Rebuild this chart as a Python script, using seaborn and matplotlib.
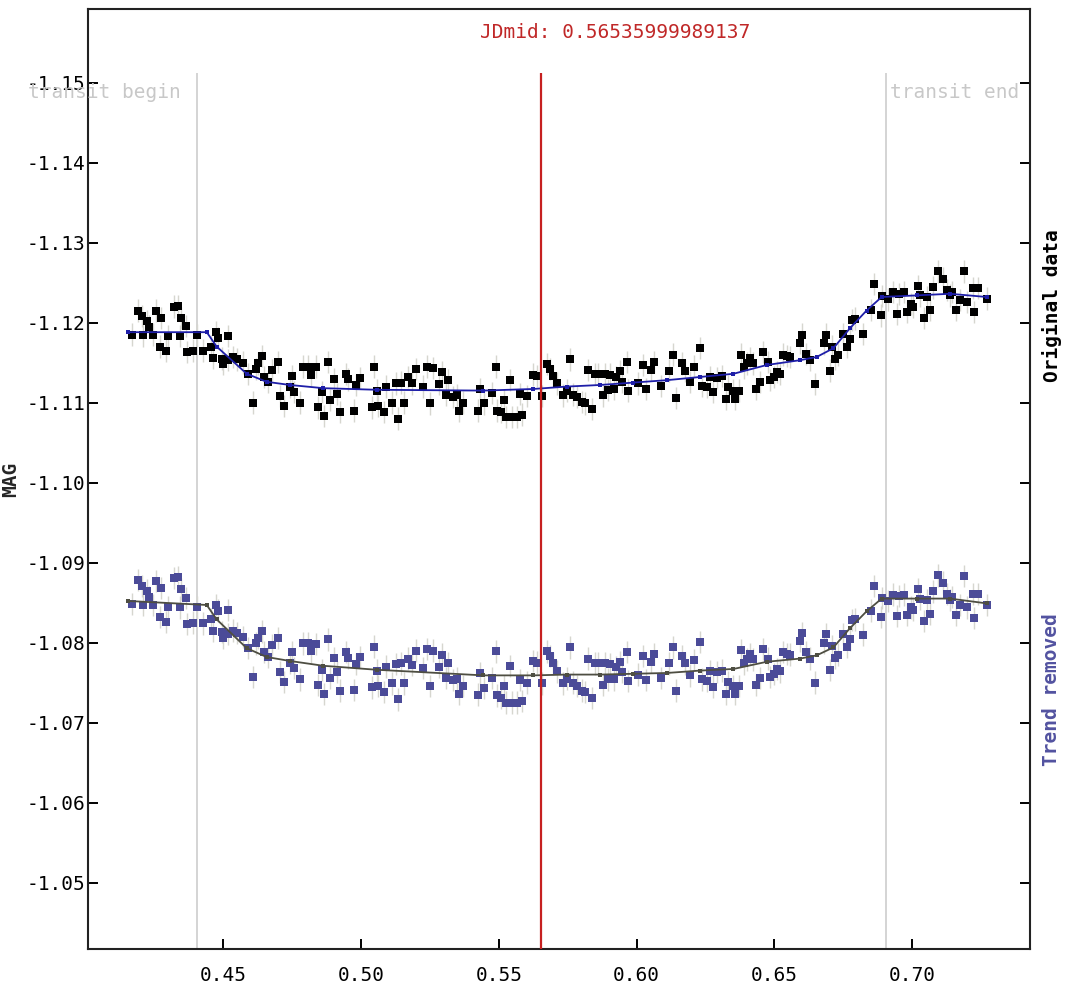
import numpy as np
import matplotlib
matplotlib.use("Agg")
import matplotlib.pyplot as plt
import seaborn as sns
from matplotlib.ticker import FormatStrFormatter, MultipleLocator

# --- data (JD fraction, magnitude) ---
jd = [
    0.4167, 0.4189, 0.4204, 0.4210, 0.4222, 0.4231, 0.4246, 0.4256, 0.4270, 0.4274,
    0.4291, 0.4300, 0.4322, 0.4337, 0.4343, 0.4346, 0.4364, 0.4370, 0.4389, 0.4403,
    0.4427, 0.4454, 0.4461, 0.4472, 0.4482, 0.4494, 0.4500, 0.4516, 0.4518, 0.4536,
    0.4548, 0.4570, 0.4591, 0.4609, 0.4617, 0.4627, 0.4642, 0.4648, 0.4663, 0.4675,
    0.4697, 0.4706, 0.4721, 0.4742, 0.4750, 0.4757, 0.4778, 0.4790, 0.4808, 0.4817,
    0.4835, 0.4845, 0.4859, 0.4867, 0.4881, 0.4887, 0.4903, 0.4911, 0.4924, 0.4945,
    0.4954, 0.4976, 0.4980, 0.4996, 0.5038, 0.5047, 0.5059, 0.5063, 0.5083, 0.5089,
    0.5113, 0.5126, 0.5135, 0.5144, 0.5157, 0.5172, 0.5184, 0.5199, 0.5223, 0.5238,
    0.5250, 0.5262, 0.5284, 0.5292, 0.5307, 0.5317, 0.5332, 0.5347, 0.5357, 0.5371,
    0.5426, 0.5432, 0.5447, 0.5474, 0.5490, 0.5494, 0.5508, 0.5520, 0.5526, 0.5541,
    0.5547, 0.5565, 0.5577, 0.5585, 0.5601, 0.5625, 0.5640, 0.5656, 0.5674, 0.5686,
    0.5696, 0.5710, 0.5734, 0.5746, 0.5758, 0.5768, 0.5782, 0.5801, 0.5813, 0.5825,
    0.5837, 0.5847, 0.5861, 0.5879, 0.5885, 0.5897, 0.5903, 0.5919, 0.5925, 0.5940,
    0.5946, 0.5964, 0.5970, 0.6003, 0.6024, 0.6034, 0.6051, 0.6063, 0.6087, 0.6119,
    0.6130, 0.6143, 0.6164, 0.6176, 0.6194, 0.6208, 0.6230, 0.6236, 0.6254, 0.6266,
    0.6278, 0.6291, 0.6309, 0.6324, 0.6333, 0.6351, 0.6357, 0.6373, 0.6377, 0.6391,
    0.6399, 0.6411, 0.6421, 0.6433, 0.6448, 0.6457, 0.6478, 0.6484, 0.6498, 0.6510,
    0.6520, 0.6530, 0.6547, 0.6556, 0.6593, 0.6599, 0.6615, 0.6629, 0.6647, 0.6680,
    0.6687, 0.6702, 0.6708, 0.6720, 0.6732, 0.6750, 0.6762, 0.6774, 0.6780, 0.6793,
    0.6820, 0.6849, 0.6862, 0.6886, 0.6889, 0.6913, 0.6929, 0.6943, 0.6953, 0.6970,
    0.6982, 0.6994, 0.7004, 0.7022, 0.7028, 0.7043, 0.7052, 0.7064, 0.7077, 0.7095,
    0.7111, 0.7125, 0.7137, 0.7143, 0.7159, 0.7174, 0.7189, 0.7198, 0.7220, 0.7225,
    0.7237, 0.7270,
]

mag_orig = [
    -1.1185, -1.1215, -1.1208, -1.1184, -1.1202, -1.1195, -1.1185, -1.1215, -1.1170, -1.1206,
    -1.1165, -1.1183, -1.1220, -1.1221, -1.1183, -1.1206, -1.1196, -1.1163, -1.1165, -1.1184,
    -1.1165, -1.1170, -1.1156, -1.1188, -1.1181, -1.1155, -1.1148, -1.1183, -1.1153, -1.1157,
    -1.1154, -1.1150, -1.1136, -1.1100, -1.1142, -1.1149, -1.1158, -1.1132, -1.1126, -1.1141,
    -1.1151, -1.1108, -1.1096, -1.1120, -1.1133, -1.1113, -1.1100, -1.1145, -1.1145, -1.1135,
    -1.1145, -1.1094, -1.1113, -1.1083, -1.1151, -1.1103, -1.1129, -1.1111, -1.1088, -1.1136,
    -1.1129, -1.1090, -1.1122, -1.1131, -1.1094, -1.1145, -1.1115, -1.1096, -1.1088, -1.1120,
    -1.1100, -1.1124, -1.1080, -1.1125, -1.1100, -1.1132, -1.1124, -1.1142, -1.1120, -1.1145,
    -1.1099, -1.1143, -1.1123, -1.1138, -1.1110, -1.1128, -1.1107, -1.1109, -1.1090, -1.1100,
    -1.1090, -1.1117, -1.1099, -1.1112, -1.1145, -1.1090, -1.1088, -1.1103, -1.1082, -1.1128,
    -1.1082, -1.1082, -1.1111, -1.1085, -1.1108, -1.1135, -1.1133, -1.1108, -1.1148, -1.1142,
    -1.1133, -1.1124, -1.1109, -1.1115, -1.1154, -1.1110, -1.1107, -1.1101, -1.1099, -1.1141,
    -1.1092, -1.1136, -1.1136, -1.1109, -1.1136, -1.1116, -1.1135, -1.1117, -1.1132, -1.1139,
    -1.1126, -1.1151, -1.1115, -1.1124, -1.1147, -1.1117, -1.1141, -1.1151, -1.1121, -1.1140,
    -1.1160, -1.1106, -1.1149, -1.1140, -1.1126, -1.1145, -1.1168, -1.1121, -1.1120, -1.1132,
    -1.1113, -1.1131, -1.1133, -1.1105, -1.1120, -1.1115, -1.1105, -1.1115, -1.1160, -1.1144,
    -1.1149, -1.1156, -1.1149, -1.1117, -1.1126, -1.1163, -1.1151, -1.1128, -1.1132, -1.1138,
    -1.1136, -1.1160, -1.1158, -1.1157, -1.1175, -1.1185, -1.1161, -1.1153, -1.1123, -1.1174,
    -1.1185, -1.1140, -1.1170, -1.1155, -1.1160, -1.1186, -1.1170, -1.1179, -1.1203, -1.1205,
    -1.1186, -1.1216, -1.1248, -1.1209, -1.1233, -1.1229, -1.1238, -1.1211, -1.1236, -1.1238,
    -1.1213, -1.1223, -1.1220, -1.1246, -1.1234, -1.1206, -1.1232, -1.1216, -1.1244, -1.1264,
    -1.1255, -1.1241, -1.1234, -1.1238, -1.1216, -1.1228, -1.1264, -1.1226, -1.1243, -1.1213,
    -1.1243, -1.1230,
]

mag_detr = [
    -1.0848, -1.0878, -1.0871, -1.0847, -1.0865, -1.0857, -1.0847, -1.0877, -1.0832, -1.0868,
    -1.0826, -1.0844, -1.0881, -1.0882, -1.0844, -1.0867, -1.0856, -1.0823, -1.0825, -1.0844,
    -1.0824, -1.0829, -1.0815, -1.0847, -1.0840, -1.0813, -1.0806, -1.0841, -1.0811, -1.0815,
    -1.0812, -1.0807, -1.0793, -1.0757, -1.0799, -1.0806, -1.0814, -1.0788, -1.0782, -1.0797,
    -1.0806, -1.0763, -1.0751, -1.0775, -1.0788, -1.0768, -1.0754, -1.0799, -1.0799, -1.0789,
    -1.0798, -1.0747, -1.0766, -1.0736, -1.0804, -1.0756, -1.0781, -1.0763, -1.0740, -1.0788,
    -1.0781, -1.0741, -1.0773, -1.0782, -1.0744, -1.0795, -1.0765, -1.0746, -1.0738, -1.0770,
    -1.0749, -1.0773, -1.0729, -1.0774, -1.0749, -1.0780, -1.0772, -1.0790, -1.0768, -1.0792,
    -1.0746, -1.0790, -1.0770, -1.0785, -1.0756, -1.0774, -1.0753, -1.0755, -1.0736, -1.0746,
    -1.0735, -1.0762, -1.0743, -1.0756, -1.0789, -1.0734, -1.0731, -1.0746, -1.0725, -1.0771,
    -1.0725, -1.0725, -1.0753, -1.0727, -1.0750, -1.0777, -1.0775, -1.0749, -1.0789, -1.0783,
    -1.0774, -1.0764, -1.0749, -1.0755, -1.0794, -1.0750, -1.0746, -1.0740, -1.0738, -1.0780,
    -1.0731, -1.0774, -1.0774, -1.0747, -1.0774, -1.0754, -1.0773, -1.0754, -1.0769, -1.0776,
    -1.0763, -1.0788, -1.0752, -1.0760, -1.0783, -1.0753, -1.0776, -1.0786, -1.0756, -1.0774,
    -1.0794, -1.0740, -1.0783, -1.0774, -1.0759, -1.0778, -1.0801, -1.0754, -1.0752, -1.0764,
    -1.0745, -1.0763, -1.0765, -1.0736, -1.0751, -1.0746, -1.0736, -1.0746, -1.0791, -1.0774,
    -1.0779, -1.0786, -1.0779, -1.0747, -1.0756, -1.0792, -1.0780, -1.0757, -1.0761, -1.0767,
    -1.0764, -1.0788, -1.0786, -1.0785, -1.0802, -1.0812, -1.0788, -1.0780, -1.0750, -1.0800,
    -1.0811, -1.0766, -1.0796, -1.0781, -1.0785, -1.0811, -1.0795, -1.0804, -1.0828, -1.0829,
    -1.0810, -1.0840, -1.0871, -1.0832, -1.0856, -1.0852, -1.0860, -1.0833, -1.0858, -1.0860,
    -1.0835, -1.0844, -1.0841, -1.0867, -1.0855, -1.0827, -1.0853, -1.0836, -1.0864, -1.0884,
    -1.0875, -1.0861, -1.0853, -1.0857, -1.0835, -1.0847, -1.0883, -1.0844, -1.0861, -1.0831,
    -1.0861, -1.0847,
]

mag_err = 0.0014

# smoothed model curves
fit_jd = [0.4155, 0.4440, 0.4476, 0.4585, 0.4657, 0.4742, 0.4863, 0.5057, 0.5444,
          0.5625, 0.5746, 0.5867, 0.5988, 0.6109, 0.6230, 0.6351, 0.6472, 0.6593,
          0.6653, 0.6714, 0.6774, 0.6834, 0.6889, 0.7016, 0.7137, 0.7270]
fit_orig = [-1.1188, -1.1188, -1.1170, -1.1136, -1.1126, -1.1122, -1.1118, -1.1116, -1.1115,
            -1.1117, -1.1120, -1.1122, -1.1125, -1.1128, -1.1132, -1.1136, -1.1147, -1.1153,
            -1.1157, -1.1168, -1.1193, -1.1215, -1.1232, -1.1234, -1.1236, -1.1232]
fit_detr = [-1.0852, -1.0847, -1.0829, -1.0793, -1.0782, -1.0777, -1.0771, -1.0766, -1.0759,
            -1.0759, -1.0760, -1.0760, -1.0761, -1.0762, -1.0765, -1.0767, -1.0776, -1.0780,
            -1.0784, -1.0794, -1.0818, -1.0839, -1.0855, -1.0855, -1.0855, -1.0849]

transit_begin = 0.44057
transit_end = 0.69035
jd_mid = 0.56535999989137

# --- style ---
sns.set_style("white")
plt.rcParams["font.family"] = ["DejaVu Sans Mono", "DejaVu Sans"]
plt.rcParams["axes.unicode_minus"] = False

fig = plt.figure(figsize=(10.69, 9.88), dpi=100)
ax = fig.add_axes([0.0826, 0.0395, 0.8809, 0.9514])

y_bottom, y_top = -1.0417, -1.1592
line_top = -1.1512

# transit markers
ax.vlines([transit_begin, transit_end], y_bottom, line_top, color="#d4d4d4", lw=1.4, zorder=1)

# error bars
ax.errorbar(jd, mag_orig, yerr=mag_err, fmt="none", ecolor="#d6d6cf", elinewidth=1, zorder=1)
ax.errorbar(jd, mag_detr, yerr=mag_err, fmt="none", ecolor="#d6d6cf", elinewidth=1, zorder=1)

# points
sns.scatterplot(x=jd, y=mag_orig, marker="s", color="black", s=36, linewidth=0, ax=ax, zorder=3)
sns.scatterplot(x=jd, y=mag_detr, marker="s", color="#4b4b98", s=36, linewidth=0, ax=ax, zorder=3)

# model curves
sns.lineplot(x=fit_jd, y=fit_orig, color="#1e1ea8", lw=1.3, marker="s", markersize=3,
             markeredgewidth=0, sort=False, estimator=None, ax=ax, zorder=4)
sns.lineplot(x=fit_jd, y=fit_detr, color="#4e4e42", lw=1.3, marker="s", markersize=3,
             markeredgewidth=0, sort=False, estimator=None, ax=ax, zorder=4)

# mid-transit line
ax.vlines([jd_mid], y_bottom, line_top, color="#c62020", lw=1.6, zorder=5)

ax.set_xlim(0.40102, 0.74271)
ax.set_ylim(y_bottom, y_top)

ax.xaxis.set_major_locator(MultipleLocator(0.05))
ax.yaxis.set_major_locator(MultipleLocator(0.01))
ax.xaxis.set_major_formatter(FormatStrFormatter("%.2f"))
ax.yaxis.set_major_formatter(FormatStrFormatter("%.2f"))

ax.tick_params(axis="both", direction="in", length=7.5, width=1.4, labelsize=14,
               colors="black")
ax.tick_params(axis="y", left=True, right=True, pad=2)
ax.tick_params(axis="x", bottom=True, top=False, pad=12)
for sp in ax.spines.values():
    sp.set_color("#222222")
    sp.set_linewidth(1.5)

ax.set_xlabel("")
ax.set_ylabel("MAG", fontsize=14, fontweight="bold")
ax.yaxis.set_label_coords(-0.072, 0.5)

# annotations
ax.text(0.5593, 0.9755, "JDmid: " + "0.56535999989137", transform=ax.transAxes,
        ha="center", va="center", color="#c02828", fontsize=14)
ax.text(0.4347, -1.1487, "transit begin", ha="right", va="center", color="#c8c8c8",
        fontsize=14, clip_on=False)
ax.text(0.6919, -1.1487, "transit end", ha="left", va="center", color="#c8c8c8",
        fontsize=14)

fig.text(0.984, 0.691, "Original data", rotation=90, ha="center", va="center",
         fontsize=14, fontweight="bold", color="black")
fig.text(0.984, 0.3016, "Trend removed", rotation=90, ha="center", va="center",
         fontsize=14, fontweight="bold", color="#5252a0")

fig.savefig("out.png", dpi=100)
